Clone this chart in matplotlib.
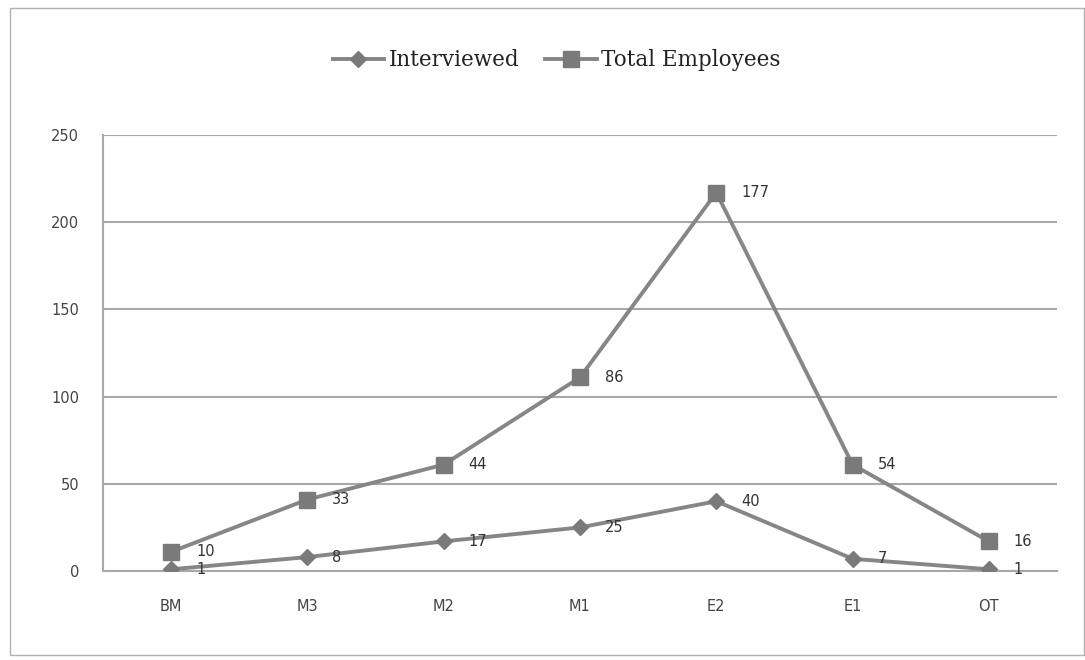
import numpy as np
import matplotlib.pyplot as plt
from matplotlib.patches import Rectangle

# employee grades and counts
grades = ['BM', 'M3', 'M2', 'M1', 'E2', 'E1', 'OT']
interviewed = [1, 8, 17, 25, 40, 7, 1]
total_employees = [10, 33, 44, 86, 177, 54, 16]

x = np.arange(len(grades))
# stacked line: second series sits on top of the first
total_stacked = np.array(interviewed) + np.array(total_employees)

line_col = '#868686'
mark_col = '#7a7a7a'

fig = plt.figure(figsize=(10.85, 6.6), dpi=100)
ax = fig.add_axes([0.0949, 0.1348, 0.8793, 0.6607])

ax.plot(x, interviewed, color=line_col, lw=2.8, marker='D', ms=8,
        mfc=mark_col, mec=mark_col, label='Interviewed', zorder=3)
ax.plot(x, total_stacked, color=line_col, lw=2.8, marker='s', ms=12,
        mfc=mark_col, mec=mark_col, label='Total Employees', zorder=3)

for xi, yi, v in zip(x, interviewed, interviewed):
    ax.annotate(str(v), (xi, yi), xytext=(18, 0), textcoords='offset points',
                va='center', ha='left', fontsize=10.5, color='#333333')
for xi, yi, v in zip(x, total_stacked, total_employees):
    ax.annotate(str(v), (xi, yi), xytext=(18, 0), textcoords='offset points',
                va='center', ha='left', fontsize=10.5, color='#333333')

ax.set_xlim(-0.5, len(grades) - 0.5)
ax.set_ylim(0, 250)
ax.set_yticks(range(0, 251, 50))
ax.set_xticks(x)
ax.set_xticklabels(grades)
ax.tick_params(axis='both', length=0, labelsize=10.5, colors='#444444')
ax.tick_params(axis='y', pad=17)
ax.tick_params(axis='x', pad=20)

ax.grid(axis='y', color='#a8a8a8', lw=1.5)
ax.set_axisbelow(True)
for s in ['top', 'right']:
    ax.spines[s].set_visible(False)
ax.spines['left'].set_color('#a8a8a8')
ax.spines['left'].set_linewidth(1.5)
ax.spines['bottom'].set_color('#a8a8a8')
ax.spines['bottom'].set_linewidth(1.5)

fig.legend(loc='center', bbox_to_anchor=(0.513, 0.909), ncol=2, frameon=False,
           prop={'family': 'DejaVu Serif', 'size': 15.5}, handlelength=2.4,
           columnspacing=1.2, handletextpad=0.2, labelcolor='#222222')

# outer chart frame
fig.add_artist(Rectangle((0.009, 0.008), 0.99, 0.98, transform=fig.transFigure,
                         fill=False, ec='#b0b0b0', lw=1))

fig.savefig('out.png', dpi=100)
